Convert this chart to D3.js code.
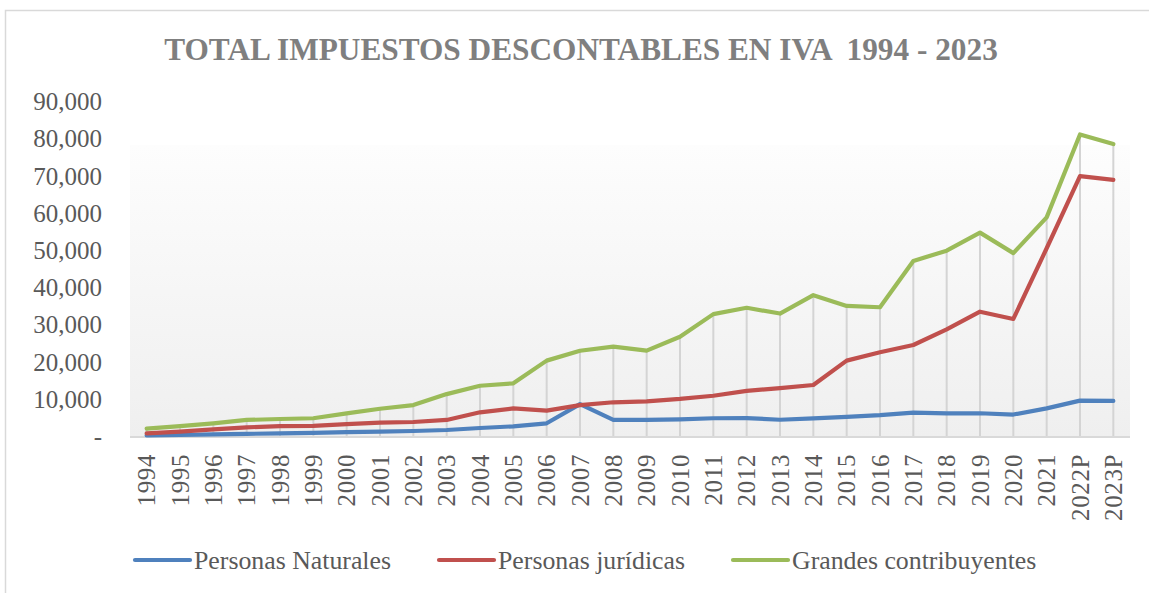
<!DOCTYPE html>
<html lang="es">
<head>
<meta charset="utf-8">
<title>Total impuestos descontables en IVA</title>
<script src="https://cdn.jsdelivr.net/npm/d3@7"></script>
<style>
  html, body { margin: 0; padding: 0; background: #fff; }
  svg text { font-family: "Liberation Serif", "Times New Roman", serif; fill: #595959; }
</style>
</head>
<body>
<div id="chart"></div>
<script>
// datos (millones de pesos)
const years = ["1994","1995","1996","1997","1998","1999","2000","2001","2002","2003",
  "2004","2005","2006","2007","2008","2009","2010","2011","2012","2013",
  "2014","2015","2016","2017","2018","2019","2020","2021","2022P","2023P"];
const naturales = [300, 400, 550, 700, 850, 1000, 1150, 1300, 1480, 1750,
  2280, 2740, 3550, 8700, 4450, 4450, 4620, 4900, 4950, 4500,
  4850, 5300, 5750, 6400, 6200, 6250, 5900, 7550, 9650, 9550];
const juridicas = [850, 1300, 1900, 2450, 2800, 2850, 3350, 3750, 3900, 4450,
  6500, 7550, 6950, 8450, 9200, 9450, 10100, 10950, 12250, 13000,
  13850, 20400, 22650, 24600, 28800, 33550, 31600, 50600, 70000, 69000];
const grandes = [2100, 2800, 3550, 4450, 4700, 4900, 6200, 7450, 8450, 11400,
  13650, 14300, 20400, 23050, 24150, 23100, 26800, 32900, 34600, 33050,
  38000, 35100, 34750, 47200, 49950, 54800, 49300, 58900, 81200, 78600];
const seriesNames = ["Personas Naturales", "Personas jurídicas", "Grandes contribuyentes"];
const seriesColors = ["#4f81bd", "#c0504d", "#9bbb59"];
const yTicks = [0, 10000, 20000, 30000, 40000, 50000, 60000, 70000, 80000, 90000];

const width = 1149, height = 593;
const series = [naturales, juridicas, grandes];

const svg = d3.select("#chart").append("svg")
  .attr("width", width)
  .attr("height", height);

// borde del area del grafico
svg.append("rect")
  .attr("x", 5.5).attr("y", 10.5)
  .attr("width", 1170).attr("height", 620)
  .attr("fill", "#fff")
  .attr("stroke", "#d9d9d9")
  .attr("stroke-width", 1.5);

const x = d3.scaleBand().domain(years).range([130, 1130]);
const y = d3.scaleLinear().domain([0, 90000]).range([436.5, 101.7]);
const cx = d => x(d) + x.bandwidth() / 2;

// fondo degradado del area de trazado
const grad = svg.append("defs").append("linearGradient")
  .attr("id", "plotbg").attr("x1", 0).attr("y1", 0).attr("x2", 0).attr("y2", 1);
grad.append("stop").attr("offset", "0%").attr("stop-color", "#fdfdfd");
grad.append("stop").attr("offset", "100%").attr("stop-color", "#efefef");

svg.append("rect")
  .attr("x", 130).attr("y", 145)
  .attr("width", 1000).attr("height", y(0) - 145)
  .attr("fill", "url(#plotbg)");

// lineas de caida
svg.append("g").selectAll("line")
  .data(years)
  .join("line")
  .attr("x1", cx).attr("x2", cx)
  .attr("y1", (d, i) => y(d3.max(series, s => s[i])))
  .attr("y2", y(0))
  .attr("stroke", "#d4d4d4")
  .attr("stroke-width", 2);

// eje x
svg.append("line")
  .attr("x1", 130).attr("x2", 1130)
  .attr("y1", y(0) + 0.5).attr("y2", y(0) + 0.5)
  .attr("stroke", "#d9d9d9")
  .attr("stroke-width", 2);

// etiquetas eje y
const yAxis = d3.axisLeft(y)
  .tickValues(yTicks)
  .tickSize(0)
  .tickPadding(0)
  .tickFormat(d => d === 0 ? "-" : d3.format(",")(d));
const gy = svg.append("g")
  .attr("transform", "translate(102,0)")
  .call(yAxis);
gy.select(".domain").remove();
gy.selectAll("text")
  .attr("font-size", 25)
  .attr("font-family", null)
  .attr("fill", null);

// etiquetas eje x (verticales)
svg.append("g").selectAll("text")
  .data(years)
  .join("text")
  .attr("transform", d => `translate(${cx(d)},454) rotate(-90)`)
  .attr("text-anchor", "end")
  .attr("dy", "0.34em")
  .attr("font-size", 25)
  .attr("letter-spacing", 0.6)
  .text(d => d);

// lineas de series
const line = d3.line()
  .x((d, i) => cx(years[i]))
  .y(d => y(d));

svg.append("g").selectAll("path")
  .data(series)
  .join("path")
  .attr("d", line)
  .attr("fill", "none")
  .attr("stroke", (d, i) => seriesColors[i])
  .attr("stroke-width", 4.2)
  .attr("stroke-linejoin", "round")
  .attr("stroke-linecap", "round");

// titulo
svg.append("text")
  .attr("x", 581).attr("y", 60)
  .attr("text-anchor", "middle")
  .attr("font-size", 31.3)
  .attr("font-weight", "bold")
  .style("fill", "#7f7f7f")
  .style("white-space", "pre")
  .text("TOTAL IMPUESTOS DESCONTABLES EN IVA  1994 - 2023");

// leyenda
const legend = svg.append("g");
let lx = 135;
seriesNames.forEach((name, i) => {
  legend.append("line")
    .attr("x1", lx).attr("x2", lx + 55)
    .attr("y1", 560).attr("y2", 560)
    .attr("stroke", seriesColors[i])
    .attr("stroke-width", 4.2)
    .attr("stroke-linecap", "round");
  const t = legend.append("text")
    .attr("x", lx + 59).attr("y", 569)
    .attr("font-size", 25.8)
    .text(name);
  lx += 59 + t.node().getComputedTextLength() + 48;
});
</script>
</body>
</html>
